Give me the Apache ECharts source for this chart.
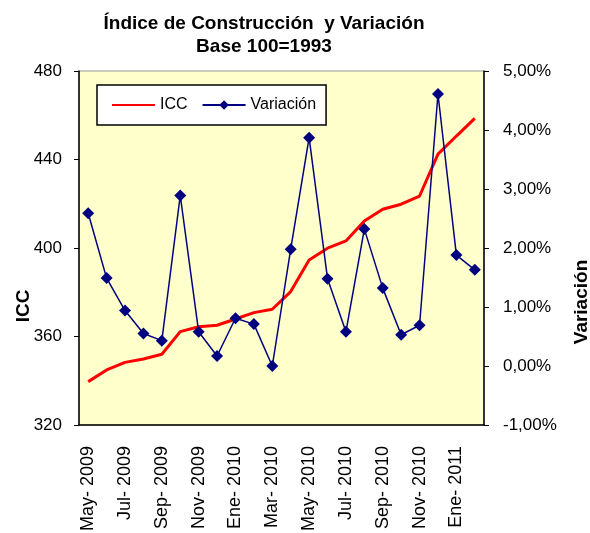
<!DOCTYPE html>
<html>
<head>
<meta charset="utf-8">
<script src="https://cdn.jsdelivr.net/npm/echarts@6/dist/echarts.min.js"></script>
<style>
  html, body { margin: 0; padding: 0; background: #fff; }
  #chart { width: 590px; height: 533px; }
</style>
</head>
<body>
<div id="chart"></div>
<script>
// monthly categories, May 2009 .. Feb 2011
const months = [
  'May- 2009', 'Jun- 2009', 'Jul- 2009', 'Ago- 2009', 'Sep- 2009', 'Oct- 2009',
  'Nov- 2009', 'Dic- 2009', 'Ene- 2010', 'Feb- 2010', 'Mar- 2010', 'Abr- 2010',
  'May- 2010', 'Jun- 2010', 'Jul- 2010', 'Ago- 2010', 'Sep- 2010', 'Oct- 2010',
  'Nov- 2010', 'Dic- 2010', 'Ene- 2011', 'Feb- 2011'
]
// construction cost index (left axis)
const icc = [
  339.6, 344.9, 348.3, 349.8, 352.0, 362.2, 364.4, 365.1, 367.9, 370.8, 372.3,
  380.3, 394.6, 399.9, 403.2, 412.2, 417.5, 419.8, 423.5, 442.4, 450.6, 458.6
]
// monthly variation in % (right axis)
const variacion = [
  2.59, 1.49, 0.94, 0.55, 0.43, 2.89, 0.58, 0.17, 0.81, 0.71, 0.0,
  1.98, 3.87, 1.48, 0.58, 2.32, 1.32, 0.53, 0.69, 4.61, 1.88, 1.63
]

const font = 'Liberation Sans, Arial, sans-serif'
const ink = '#000'

const chart = echarts.init(document.getElementById('chart'))

chart.setOption({
  animation: false,
  textStyle: { fontFamily: font, color: ink },
  graphic: [
    {
      type: 'text', x: 264, y: 12,
      style: {
        text: 'Índice de Construcción  y Variación\nBase 100=1993',
        font: 'bold 19px ' + font, fill: ink,
        textAlign: 'center', lineHeight: 23
      }
    }
  ],
  legend: {
    left: 97, top: 85,
    padding: [12, 10, 12, 14],
    backgroundColor: '#fff',
    borderColor: ink, borderWidth: 1.5, borderRadius: 0,
    itemWidth: 43, itemHeight: 12, itemGap: 14,
    textStyle: { fontSize: 16, color: ink, fontFamily: font },
    data: [
      { name: 'ICC', itemStyle: { opacity: 0 } },
      { name: 'Variación' }
    ]
  },
  grid: {
    left: 79, right: 106, top: 71, bottom: 108,
    outerBoundsMode: 'none',
    show: true, backgroundColor: '#FFFFCC', borderColor: '#999', borderWidth: 1
  },
  xAxis: {
    type: 'category',
    data: months,
    boundaryGap: true,
    axisLine: { onZero: false, lineStyle: { color: ink, width: 1.5 } },
    axisTick: { interval: 1, length: 5, lineStyle: { color: ink } },
    axisLabel: { interval: 1, rotate: 90, fontSize: 18, color: ink, fontFamily: font, margin: 21 }
  },
  yAxis: [
    {
      type: 'value', min: 320, max: 480, interval: 40,
      name: 'ICC', nameLocation: 'middle', nameRotate: 90, nameGap: 46, nameMoveOverlap: false,
      nameTextStyle: { fontSize: 19, fontWeight: 'bold', color: ink, padding: [0, 116, 0, 0] },
      axisLine: { show: true, lineStyle: { color: ink, width: 1.5 } },
      axisTick: { show: true, length: 5, lineStyle: { color: ink } },
      splitLine: { show: false },
      axisLabel: { fontSize: 17, color: ink, fontFamily: font, margin: 17 }
    },
    {
      type: 'value', min: -1, max: 5, interval: 1, position: 'right',
      name: 'Variación', nameLocation: 'middle', nameRotate: 90, nameGap: 88,
      nameTextStyle: { fontSize: 19, fontWeight: 'bold', color: ink, padding: [0, 108, 0, 0] },
      axisLine: { show: true, lineStyle: { color: ink, width: 1.5 } },
      axisTick: { show: true, length: 5, lineStyle: { color: ink } },
      splitLine: { show: false },
      axisLabel: {
        fontSize: 17, color: ink, fontFamily: font, margin: 19,
        formatter: (v) => v.toFixed(2).replace('.', ',') + '%'
      }
    }
  ],
  series: [
    {
      name: 'ICC', type: 'line', data: icc, yAxisIndex: 0,
      showSymbol: false,
      lineStyle: { color: '#FF0000', width: 3 },
      itemStyle: { color: '#FF0000' }
    },
    {
      name: 'Variación', type: 'line', data: variacion, yAxisIndex: 1,
      symbol: 'diamond', symbolSize: 12, showAllSymbol: true,
      lineStyle: { color: '#000080', width: 1.5 },
      itemStyle: { color: '#000080' }
    }
  ]
})
</script>
</body>
</html>
